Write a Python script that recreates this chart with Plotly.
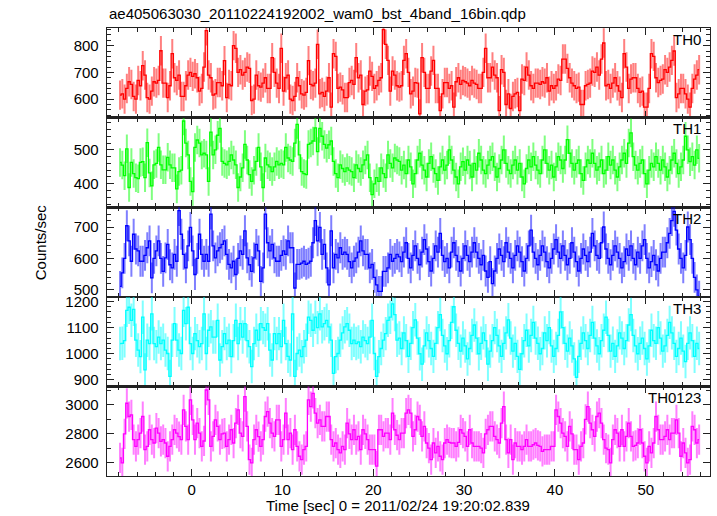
import plotly.graph_objects as go
from plotly.subplots import make_subplots

# ---------------- data (counts/sec, 0.25 s bins starting at t = -8 s) ----------------
T_START = -8.0
BIN_WIDTH = 0.25

th0 = [
    615, 620, 600, 640, 665, 655, 610, 600, 670, 650, 725, 690, 606, 600, 630, 665,
    660, 670, 781, 660, 660, 606, 650, 770, 680, 670, 690, 610, 610, 650, 690, 700,
    685, 695, 680, 630, 640, 720, 856, 690, 680, 615, 620, 662, 662, 650, 744, 606,
    655, 650, 800, 790, 700, 710, 690, 700, 720, 715, 595, 600, 690, 650, 645, 660,
    680, 640, 640, 755, 700, 660, 640, 790, 630, 680, 690, 600, 595, 610, 680, 650,
    620, 615, 625, 744, 655, 650, 660, 805, 620, 625, 610, 630, 680, 570, 770, 760,
    640, 645, 635, 606, 606, 662, 670, 655, 755, 680, 690, 580, 630, 635, 705, 685,
    640, 650, 670, 680, 860, 805, 745, 630, 705, 690, 650, 645, 650, 745, 770, 700,
    620, 630, 662, 660, 545, 755, 700, 640, 640, 705, 745, 640, 640, 557, 620, 662,
    662, 640, 650, 570, 665, 680, 655, 670, 665, 660, 650, 670, 660, 655, 640, 640,
    700, 790, 680, 680, 720, 690, 680, 557, 710, 700, 580, 620, 565, 610, 620, 625,
    557, 675, 670, 720, 690, 650, 640, 660, 660, 655, 665, 660, 680, 630, 650, 640,
    650, 675, 670, 750, 750, 715, 680, 660, 650, 640, 645, 580, 580, 650, 655, 660,
    705, 700, 720, 690, 750, 810, 650, 655, 640, 660, 680, 650, 630, 606, 770, 720,
    640, 675, 680, 680, 640, 625, 630, 570, 570, 640, 770, 760, 680, 662, 670, 675,
    710, 700, 720, 745, 780, 606, 620, 640, 640, 620, 600, 570, 640, 675, 690, 710,
]

th1 = [
    463, 455, 424, 503, 389, 463, 430, 418, 415, 463, 465, 418, 521, 432, 394, 456,
    460, 507, 456, 441, 441, 478, 456, 447, 447, 385, 436, 440, 585, 520, 485, 407,
    377, 507, 529, 520, 485, 490, 485, 407, 552, 485, 500, 543, 563, 466, 460, 456,
    466, 485, 470, 456, 389, 420, 447, 516, 470, 427, 407, 440, 466, 507, 450, 389,
    476, 456, 450, 436, 450, 466, 456, 460, 456, 507, 476, 470, 466, 520, 575, 485,
    436, 430, 427, 516, 520, 526, 565, 495, 563, 540, 516, 505, 515, 526, 466, 430,
    418, 456, 445, 436, 447, 440, 436, 418, 456, 445, 436, 456, 470, 485, 418, 368,
    400, 418, 407, 447, 430, 418, 485, 460, 447, 476, 470, 466, 440, 455, 430, 470,
    450, 400, 430, 470, 490, 455, 440, 420, 460, 480, 445, 430, 410, 450, 470, 440,
    455, 500, 470, 440, 420, 400, 450, 465, 440, 470, 455, 420, 460, 440, 490, 470,
    440, 430, 455, 470, 480, 450, 420, 445, 470, 500, 460, 440, 430, 455, 470, 440,
    460, 420, 400, 445, 470, 450, 480, 455, 440, 430, 470, 500, 460, 440, 455, 420,
    450, 480, 470, 445, 470, 530, 490, 460, 440, 460, 470, 430, 410, 450, 470, 460,
    490, 460, 440, 450, 470, 430, 440, 480, 455, 470, 440, 420, 450, 470, 490, 460,
    520, 550, 480, 455, 440, 460, 470, 430, 400, 440, 460, 450, 480, 460, 440, 470,
    450, 420, 440, 470, 490, 460, 430, 450, 470, 540, 500, 465, 480, 455, 500, 475,
]

th2 = [
    511, 554, 600, 704, 656, 591, 677, 630, 624, 591, 591, 610, 634, 656, 538, 600,
    624, 656, 600, 559, 602, 645, 580, 570, 613, 591, 752, 677, 613, 570, 640, 699,
    624, 549, 600, 677, 613, 591, 613, 591, 741, 640, 602, 624, 634, 645, 656, 613,
    581, 570, 591, 549, 600, 624, 613, 688, 602, 580, 559, 602, 645, 624, 527, 570,
    741, 650, 624, 645, 602, 591, 591, 610, 624, 613, 656, 634, 634, 506, 581, 581,
    585, 591, 581, 585, 591, 650, 720, 656, 699, 613, 645, 570, 516, 688, 570, 613,
    602, 634, 613, 620, 613, 590, 570, 591, 602, 620, 656, 624, 613, 613, 570, 581,
    540, 516, 495, 495, 559, 559, 570, 613, 591, 600, 613, 605, 590, 620, 650, 600,
    570, 610, 640, 600, 580, 620, 660, 630, 590, 560, 600, 640, 620, 680, 610, 590,
    600, 570, 620, 650, 610, 590, 560, 600, 640, 610, 590, 620, 650, 620, 600, 580,
    610, 560, 540, 590, 520, 560, 600, 630, 610, 590, 650, 620, 600, 570, 610, 640,
    620, 590, 560, 600, 640, 690, 620, 600, 580, 610, 640, 620, 590, 570, 600, 630,
    660, 620, 600, 640, 610, 580, 600, 650, 620, 590, 560, 600, 630, 610, 590, 620,
    680, 640, 610, 600, 650, 700, 630, 600, 580, 610, 640, 620, 600, 570, 590, 630,
    610, 640, 600, 580, 620, 600, 640, 660, 600, 570, 590, 610, 580, 560, 600, 620,
    620, 650, 680, 720, 750, 690, 630, 600, 570, 610, 700, 660, 600, 540, 500, 480,
]

th3 = [
    1039, 1040, 1050, 1166, 1178, 1128, 1170, 1052, 1014, 989, 1140, 938, 1052, 1039, 1153, 1039,
    1027, 1064, 1039, 1052, 1014, 1001, 913, 1052, 1115, 1052, 1014, 1001, 1166, 1115, 1178, 1039,
    1001, 1077, 1050, 1027, 1039, 1153, 1001, 1090, 1103, 1064, 1064, 1128, 976, 1027, 1077, 1039,
    1052, 989, 1050, 1128, 1039, 1115, 1064, 1115, 1050, 1027, 951, 1039, 1090, 1052, 1115, 1100,
    1090, 1115, 1014, 976, 1077, 1039, 1077, 1027, 1128, 1039, 990, 976, 1153, 913, 1001, 1014,
    989, 1027, 1052, 1140, 1128, 1090, 1140, 1100, 1153, 1103, 1115, 1128, 1103, 1052, 925, 989,
    1001, 1052, 1080, 1103, 1115, 1090, 1039, 1052, 1039, 1045, 1027, 1064, 1050, 1039, 1064, 1128,
    1001, 913, 989, 1020, 1052, 1077, 1128, 1140, 1191, 1150, 1052, 1060, 1020, 1080, 1050, 990,
    1040, 1100, 1130, 1060, 1000, 960, 1030, 1080, 1050, 1020, 990, 1040, 1100, 1150, 1070, 1030,
    1000, 1050, 1120, 1180, 1090, 1040, 1010, 1060, 1030, 980, 1020, 1070, 1110, 1060, 1000, 1040,
    1080, 1050, 960, 1010, 1050, 1100, 1070, 1030, 990, 1040, 1080, 1130, 1060, 1010, 1040, 990,
    940, 1000, 1050, 1090, 1030, 1070, 1120, 1060, 1040, 1000, 1020, 1080, 1050, 1100, 1030, 990,
    1020, 1070, 1160, 1100, 1040, 1010, 1060, 1030, 980, 910, 990, 1040, 1080, 1050, 1020, 1070,
    1120, 1060, 1030, 1000, 1050, 1090, 1140, 1070, 1010, 1040, 990, 1030, 1080, 1060, 1020, 1050,
    1110, 1150, 1070, 1030, 1000, 1040, 1060, 1020, 980, 1030, 1090, 1050, 1040, 1100, 1060, 1010,
    1030, 1070, 1120, 1080, 1040, 990, 1020, 1060, 1010, 970, 1040, 1080, 1050, 990, 1040, 1020,
]

th0123 = [
    2632, 2598, 2800, 3012, 2920, 2931, 2759, 2713, 2759, 2805, 2920, 2690, 2713, 2828, 2759, 2736,
    2839, 2805, 2747, 2759, 2736, 2644, 2713, 2759, 2828, 2805, 2780, 2759, 2966, 2851, 2759, 3035,
    2897, 2759, 2874, 2805, 2713, 2750, 3104, 3035, 2713, 2782, 2897, 2851, 2759, 2800, 2805, 2713,
    2759, 2828, 2736, 2874, 2966, 2805, 2782, 3058, 2851, 2621, 2598, 2759, 2828, 2780, 2713, 2759,
    2920, 2954, 2874, 2805, 2782, 2897, 2897, 2713, 2760, 2943, 2759, 2805, 2690, 2828, 2713, 2644,
    2621, 2690, 2713, 3035, 2989, 3081, 2943, 2874, 2897, 2851, 2851, 2920, 2920, 2759, 2713, 2736,
    2690, 2667, 2713, 2690, 2874, 2800, 2759, 2828, 2759, 2782, 2690, 2828, 2800, 2759, 2690, 2690,
    2690, 2575, 2828, 2828, 2782, 2805, 2805, 2759, 2943, 2828, 2790, 2759, 2805, 2805, 2943, 2966,
    2943, 2782, 2828, 2920, 2897, 2782, 2851, 2736, 2700, 2621, 2736, 2667, 2713, 2644, 2621, 2736,
    2759, 2740, 2736, 2736, 2713, 2740, 2828, 2805, 2782, 2713, 2828, 2736, 2713, 2713, 2713, 2700,
    2667, 2800, 2828, 2851, 2851, 2782, 2760, 2736, 2874, 2989, 2759, 2667, 2759, 2621, 2736, 2713,
    2713, 2690, 2713, 2759, 2713, 2713, 2724, 2736, 2720, 2713, 2678, 2690, 2690, 2690, 2713, 2713,
    2966, 2920, 2874, 2805, 2782, 2713, 2851, 2800, 2690, 2690, 2621, 2713, 2736, 2900, 2989, 2874,
    2828, 2782, 2920, 2943, 2874, 2759, 2700, 2690, 2598, 2759, 2828, 2805, 2713, 2828, 2713, 2782,
    2874, 2782, 2713, 2720, 2736, 2828, 2736, 2644, 2598, 2713, 2667, 2736, 2920, 2828, 2759, 2759,
    2782, 2828, 2759, 2805, 2805, 2897, 2805, 2644, 2736, 2667, 2598, 2621, 2851, 2828, 2736, 2760,
]

panel_names = ["TH0", "TH1", "TH2", "TH3", "TH0123"]
panel_series = [th0, th1, th2, th3, th0123]
panel_errors = [55, 42, 49, 64, 105]
panel_ranges = [[531, 866], [331, 595], [478, 763], [875, 1218], [2507, 3129]]
panel_dticks = [100, 100, 100, 100, 200]
panel_minor = [20, 20, 20, 20, 100]
panel_colors = [(255, 0, 0), (0, 255, 0), (0, 0, 255), (0, 255, 255), (255, 0, 255)]

x_range = [-9.31, 57.07]
title_text = "ae405063030_20110224192002_wam0_bst_4band_16bin.qdp"
x_title = "Time [sec] 0 = 2011/02/24 19:20:02.839"
y_title = "Counts/sec"

FONT = "Liberation Sans, Arial, Helvetica, sans-serif"

# ---------------- figure ----------------
fig = make_subplots(rows=5, cols=1, shared_xaxes=True, vertical_spacing=0)

for i, (vals, err, col) in enumerate(zip(panel_series, panel_errors, panel_colors)):
    t = [T_START + BIN_WIDTH * (k + 0.5) for k in range(len(vals))]
    r, g, b = col
    fig.add_trace(
        go.Scatter(
            x=t, y=vals, mode="lines",
            line=dict(color=f"rgb({r},{g},{b})", width=1.3, shape="hvh"),
            error_y=dict(type="constant", value=err, width=0, thickness=2,
                         color=f"rgba({r},{g},{b},0.5)"),
            showlegend=False, hoverinfo="skip",
        ),
        row=i + 1, col=1,
    )

common_axis = dict(
    showline=True, linecolor="#222222", linewidth=1.3, mirror="allticks",
    ticks="inside", ticklen=7, tickwidth=1, tickcolor="#222222",
    showgrid=False, zeroline=False,
    tickfont=dict(family=FONT, size=15, color="black"),
)

for i in range(5):
    fig.update_xaxes(
        range=x_range, dtick=10, tick0=0,
        minor=dict(dtick=2, ticklen=4, tickcolor="#222222", ticks="inside", showgrid=False),
        showticklabels=(i == 4),
        row=i + 1, col=1, **common_axis,
    )
    fig.update_yaxes(
        range=panel_ranges[i], dtick=panel_dticks[i], tick0=0,
        minor=dict(dtick=panel_minor[i], ticklen=4, tickcolor="#222222", ticks="inside", showgrid=False),
        ticklabelstandoff=4,
        row=i + 1, col=1, **common_axis,
    )

annotations = []
tops = [1.0, 0.8, 0.6, 0.4, 0.2]
for name, top in zip(panel_names, tops):
    annotations.append(dict(
        text=name, xref="paper", yref="paper", x=0.989, y=top - 0.002,
        xanchor="right", yanchor="top", showarrow=False,
        font=dict(family=FONT, size=15, color="black"),
    ))
annotations.append(dict(
    text=title_text, xref="paper", yref="paper", x=0.0, y=1.0, yshift=4,
    xanchor="left", yanchor="bottom", showarrow=False,
    font=dict(family=FONT, size=15, color="black"),
))
annotations.append(dict(
    text=x_title, xref="paper", yref="paper", x=0.483, y=-0.066,
    xanchor="center", yanchor="middle", showarrow=False,
    font=dict(family=FONT, size=15, color="black"),
))
annotations.append(dict(
    text=y_title, xref="paper", yref="paper", x=-0.111, y=0.522,
    xanchor="center", yanchor="middle", textangle=-90, showarrow=False,
    font=dict(family=FONT, size=15, color="black"),
))

fig.update_layout(
    width=717, height=516,
    margin=dict(l=107, r=7, t=27.5, b=39.5),
    paper_bgcolor="white", plot_bgcolor="white",
    annotations=annotations,
    font=dict(family=FONT, size=15, color="black"),
)

fig.write_html(
    "out.html",
    config={"displayModeBar": False, "staticPlot": True},
    post_script="document.body.style.margin='0';document.body.style.padding='0';"
                "document.body.style.overflow='hidden';",
)
